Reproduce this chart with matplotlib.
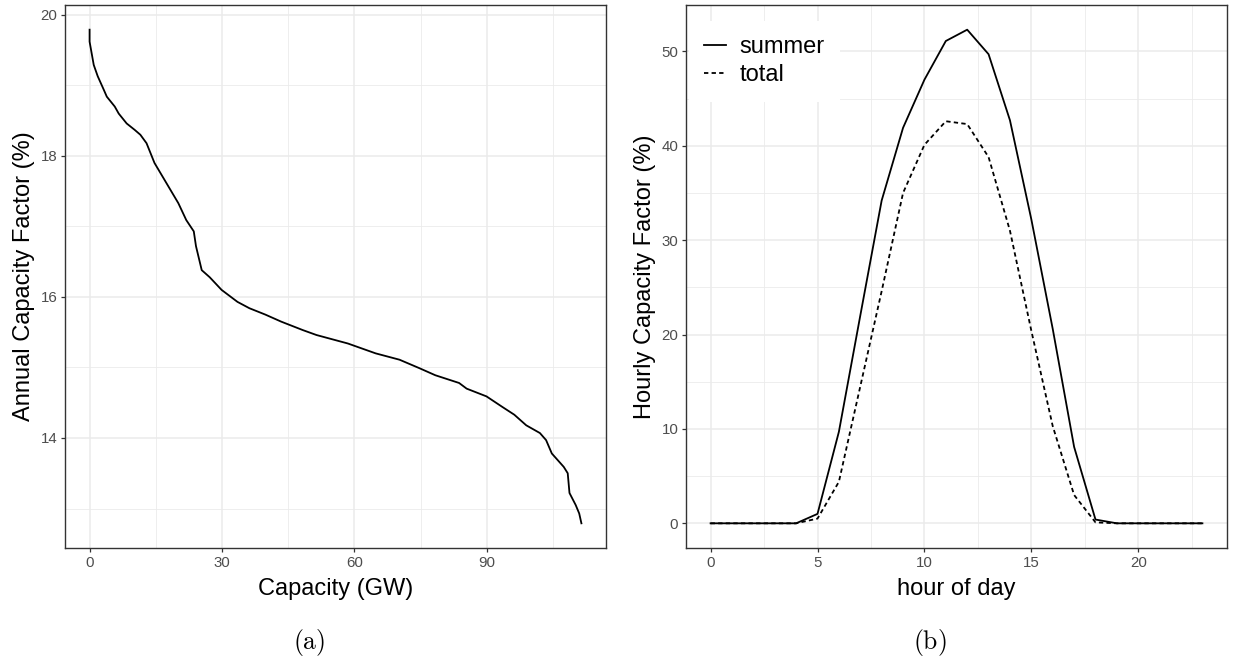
import matplotlib
matplotlib.use("Agg")
import matplotlib.pyplot as plt

plt.rcParams['font.family'] = ['Liberation Sans', 'DejaVu Sans']
plt.rcParams['mathtext.fontset'] = 'cm'

# ---- panel (a) data: capacity supply curve ----
capacity_gw = [0, 0, 0.94, 1.84, 3.2, 3.9, 5.7, 6.6, 8.4, 10.2, 11.5, 12.9, 14.7,
               16.5, 18.3, 20.1, 21.9, 23.6, 24.1, 25.4, 27.2, 29.9, 33.5, 36.2,
               39.8, 43.4, 48.3, 51.4, 58.5, 64.8, 70.2, 74.7, 78.3, 83.7, 85.4,
               89.9, 93.5, 96.2, 98.9, 102.0, 103.4, 104.7, 107.4, 108.3, 108.7,
               110.1, 110.9, 111.4]
annual_cf = [19.79, 19.62, 19.29, 19.13, 18.94, 18.84, 18.70, 18.60, 18.46, 18.37,
             18.30, 18.18, 17.90, 17.71, 17.52, 17.33, 17.09, 16.93, 16.72, 16.38,
             16.28, 16.10, 15.93, 15.84, 15.75, 15.65, 15.53, 15.46, 15.34, 15.20,
             15.11, 14.99, 14.89, 14.78, 14.70, 14.59, 14.44, 14.33, 14.18, 14.07,
             13.97, 13.78, 13.59, 13.50, 13.22, 13.05, 12.93, 12.79]
xticks_a = [0, 30, 60, 90]
yticks_a = [14, 16, 18, 20]

# ---- panel (b) data: hourly profile ----
hours = list(range(24))
summer = [0, 0, 0, 0, 0, 1.0, 9.7, 22.0, 34.2, 41.9, 47.0, 51.1, 52.3, 49.7,
          42.7, 32.2, 20.6, 8.1, 0.4, 0, 0, 0, 0, 0]
total = [0, 0, 0, 0, 0, 0.5, 4.4, 14.5, 24.6, 35.0, 40.1, 42.6, 42.3, 38.8,
         31.0, 20.4, 10.3, 3.0, 0.1, 0, 0, 0, 0, 0]
xticks_b = [0, 5, 10, 15, 20]
yticks_b = [0, 10, 20, 30, 40, 50]

W, H = 1233, 657
fig = plt.figure(figsize=(W / 100, H / 100), dpi=100)

GRID = '#EBEBEB'
BORDER = '#333333'
TICKTXT = '#4D4D4D'
TICK_FS = 10.8
TITLE_FS = 17


def px_axes(x0, x1, y0, y1):
    return fig.add_axes([x0 / W, 1 - y1 / H, (x1 - x0) / W, (y1 - y0) / H])


def style(ax):
    ax.set_facecolor('white')
    for s in ax.spines.values():
        s.set_color(BORDER)
        s.set_linewidth(1.0)
    ax.grid(True, which='major', color=GRID, linewidth=1.1, zorder=0)
    ax.grid(True, which='minor', color=GRID, linewidth=0.6, zorder=0)
    ax.set_axisbelow(True)
    ax.tick_params(which='major', length=3.0, width=0.9, color=BORDER,
                   labelcolor=TICKTXT, labelsize=TICK_FS, pad=2.5)
    ax.tick_params(which='minor', length=0)


def mids(t):
    return [(a + b) / 2 for a, b in zip(t[:-1], t[1:])]


# ---- (a) ----
ax1 = px_axes(65, 606, 5, 548)
style(ax1)
ax1.plot(capacity_gw, annual_cf, color='black', linewidth=1.3, zorder=3)
xr = max(capacity_gw) - min(capacity_gw)
yr = max(annual_cf) - min(annual_cf)
ax1.set_xlim(min(capacity_gw) - 0.05 * xr, max(capacity_gw) + 0.05 * xr)
ax1.set_ylim(min(annual_cf) - 0.05 * yr, max(annual_cf) + 0.05 * yr)
ax1.set_xticks(xticks_a)
ax1.set_yticks(yticks_a)
ax1.set_xticks(mids(xticks_a) + [105], minor=True)
ax1.set_yticks([13] + mids(yticks_a), minor=True)
ax1.set_xlabel('Capacity (GW)', fontsize=TITLE_FS, labelpad=6)
ax1.set_ylabel('Annual Capacity Factor (%)', fontsize=TITLE_FS, labelpad=4)

# ---- (b) ----
ax2 = px_axes(686, 1227, 5, 548)
style(ax2)
l1, = ax2.plot(hours, summer, color='black', linewidth=1.3, zorder=3,
               label='summer')
l2, = ax2.plot(hours, total, color='black', linewidth=1.3, zorder=3,
               linestyle=(0, (2.4, 1.8)), label='total')
ax2.set_xlim(-0.05 * 23, 23 + 0.05 * 23)
ymax = max(summer)
ax2.set_ylim(-0.05 * ymax, ymax * 1.05)
ax2.set_xticks(xticks_b)
ax2.set_yticks(yticks_b)
ax2.set_xticks(mids(xticks_b) + [22.5], minor=True)
ax2.set_yticks(mids(yticks_b), minor=True)
ax2.set_xlabel('hour of day', fontsize=TITLE_FS, labelpad=6)
ax2.set_ylabel('Hourly Capacity Factor (%)', fontsize=TITLE_FS, labelpad=4)
leg = ax2.legend(handles=[l1, l2], loc='upper left', bbox_to_anchor=(0.005, 0.971),
                 frameon=True, fancybox=False, edgecolor='none',
                 facecolor='white', framealpha=1, fontsize=TITLE_FS,
                 handlelength=0.95, handletextpad=0.55, labelspacing=0.26,
                 borderpad=0.65, borderaxespad=0.0)

# captions
fig.text(309 / W, 1 - 642 / H, r'$\mathrm{(a)}$', fontsize=18.5, ha='center', va='center')
fig.text(930 / W, 1 - 642 / H, r'$\mathrm{(b)}$', fontsize=18.5, ha='center', va='center')

fig.savefig('out.png', dpi=100, facecolor='white')
